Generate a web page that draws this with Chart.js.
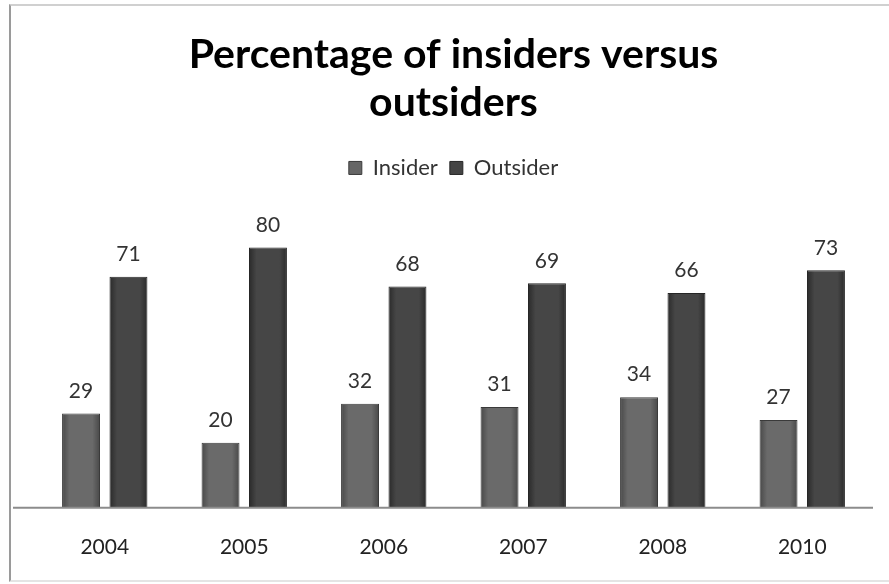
<!DOCTYPE html><html lang="en"><head><meta charset="UTF-8">
<title>Percentage of insiders versus outsiders</title>
<script src="https://cdn.jsdelivr.net/npm/chart.js"></script>
<style>
    body {
        margin: 0;
        background: white;
        font-family: Lato, sans-serif;
    }
    .frame {
        position: absolute;
        left: 9px;
        top: 4px;
        width: 880px;
        height: 574px;
        overflow: hidden;
        border-left: 2px solid #9a9a9a;
        border-top: 2px solid #d0d0d0;
        border-bottom: 2px solid #e4e4e4;
        background: white;
    }
    canvas {
        display: block;
    }
</style>
</head>
<body>
    <div class="frame">
        <canvas id="chart" width="880" height="574"></canvas>
    </div>
    <script>
        const years = ["2004", "2005", "2006", "2007", "2008", "2010"];
        const insider = [29, 20, 32, 31, 34, 27];
        const outsider = [71, 80, 68, 69, 66, 73];

        const shades = [
            {edge: "#484848", mid: "#6a6a6a"},
            {edge: "#2a2a2a", mid: "#464646"}
        ];

        // side shading of each bar, built once the bars have their size
        const barShade = {
            id: "barShade",
            beforeDatasetsDraw(chart) {
                let ctx = chart.ctx;
                chart.data.datasets.forEach((ds, i) => {
                    chart.getDatasetMeta(i).data.forEach(bar => {
                        let x0 = bar.x - bar.width / 2;
                        let g = ctx.createLinearGradient(x0, 0, x0 + bar.width, 0);
                        g.addColorStop(0, shades[i].edge);
                        g.addColorStop(0.2, shades[i].mid);
                        g.addColorStop(0.8, shades[i].mid);
                        g.addColorStop(1, shades[i].edge);
                        bar.options.backgroundColor = g;
                    });
                });
            }
        };

        // numbers above the bars
        const valueLabels = {
            id: "valueLabels",
            afterDatasetsDraw(chart) {
                let ctx = chart.ctx;
                ctx.save();
                ctx.font = "21px Lato, sans-serif";
                ctx.fillStyle = "#333";
                ctx.textAlign = "center";
                ctx.textBaseline = "bottom";
                chart.data.datasets.forEach((ds, i) => {
                    chart.getDatasetMeta(i).data.forEach((bar, j) => {
                        ctx.fillText(ds.data[j], bar.x, bar.y - 12);
                    });
                });
                ctx.restore();
            }
        };

        // gray base line
        const baseLine = {
            id: "baseLine",
            afterDatasetsDraw(chart) {
                let ctx = chart.ctx;
                let y = chart.scales.y.getPixelForValue(0);
                ctx.save();
                ctx.strokeStyle = "#8c8c8c";
                ctx.lineWidth = 2;
                ctx.beginPath();
                ctx.moveTo(2, y);
                ctx.lineTo(862, y);
                ctx.stroke();
                ctx.restore();
            }
        };

        new Chart(document.getElementById("chart"), {
            type: "bar",
            data: {
                labels: years,
                datasets: [
                    {
                        label: "Insider",
                        data: insider,
                        backgroundColor: () => "#666",
                        borderColor: "#3a3a3a",
                        borderWidth: 1,
                        barPercentage: 0.8,
                        categoryPercentage: 0.68
                    },
                    {
                        label: "Outsider",
                        data: outsider,
                        backgroundColor: () => "#444",
                        borderColor: "#262626",
                        borderWidth: 1,
                        barPercentage: 0.8,
                        categoryPercentage: 0.68
                    }
                ]
            },
            options: {
                responsive: false,
                animation: false,
                layout: {padding: {left: 24, right: 19, top: 25, bottom: -7}},
                plugins: {
                    title: {
                        display: true,
                        text: ["Percentage of insiders versus", "outsiders"],
                        color: "#000",
                        font: {family: "Lato, sans-serif", size: 41, weight: "bold", lineHeight: 1.17},
                        padding: {top: 0, bottom: 18}
                    },
                    legend: {
                        position: "top",
                        labels: {
                            color: "#333",
                            font: {family: "Lato, sans-serif", size: 22},
                            boxWidth: 13,
                            boxHeight: 13,
                            padding: 12
                        }
                    },
                    tooltip: {enabled: false}
                },
                scales: {
                    x: {
                        grid: {display: false, drawTicks: false},
                        border: {display: false},
                        ticks: {
                            color: "#222",
                            font: {family: "Lato, sans-serif", size: 21},
                            padding: 27
                        }
                    },
                    y: {
                        display: false,
                        min: 0,
                        max: 98
                    }
                }
            },
            plugins: [barShade, valueLabels, baseLine]
        });
    </script>
</body>
</html>
